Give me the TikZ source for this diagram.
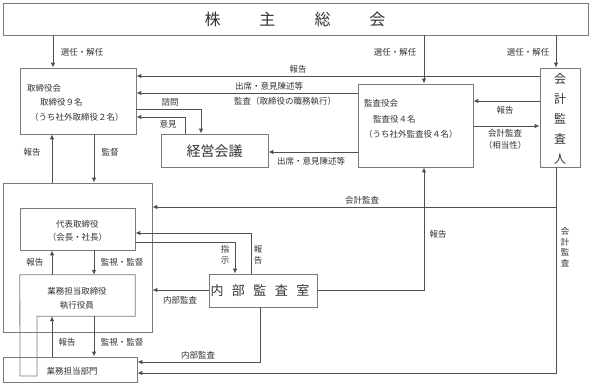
\documentclass[tikz,border=0pt]{standalone}
\usepackage{fontspec}
\setmainfont{Noto Sans CJK JP}
\usetikzlibrary{arrows.meta}
\definecolor{boxc}{HTML}{7A7A7A}
\definecolor{linec}{HTML}{505050}
\definecolor{txtc}{HTML}{333333}
\begin{document}
\begin{tikzpicture}[x=1pt,y=-1pt,
  box/.style={draw=boxc,line width=0.8pt,inner sep=0pt,anchor=center},
  hid/.style={inner sep=0pt,anchor=center},
  arr/.style={draw=linec,line width=0.9pt,-{Latex[length=5pt,width=4.5pt]}},
  lbl/.style={inner sep=0pt,text=txtc,font=\fontsize{8.5}{10}\selectfont},
  vlbl/.style={lbl,align=center,font=\fontsize{8.5}{10.5}\selectfont},
]
\useasboundingbox (0,0) rectangle (592,384);
\fill[white] (0,0) rectangle (592,384);

% boxes
\node[box,minimum width=585pt,minimum height=32pt] (kabu) at (295.5,19) {};
\node[hid,text=txtc,font=\fontsize{16}{18}\selectfont] (kabut) at (295,19) {株\hspace{39pt}主\hspace{39pt}総\hspace{39pt}会};

\node[box,minimum width=116pt,minimum height=66pt] (tori) at (78,101) {};
\node[lbl,anchor=west] (tori1) at (27,88) {取締役会};
\node[lbl,anchor=west] (tori2) at (40,102) {取締役９名};
\node[lbl,anchor=west] (tori3) at (30,117) {（うち社外取締役２名）};

\node[box,minimum width=115pt,minimum height=83pt] (kansa) at (415.5,125.5) {};
\node[lbl,anchor=west] (kansa1) at (364,103) {監査役会};
\node[lbl,anchor=west] (kansa2) at (373,119) {監査役４名};
\node[lbl,anchor=west] (kansa3) at (364,134) {（うち社外監査役４名）};

\node[box,minimum width=40pt,minimum height=99pt] (kaikei) at (560,117.5) {};
\node[hid,text=txtc,align=center,font=\fontsize{12}{20}\selectfont] (kaikeit) at (560,119) {会\\計\\監\\査\\人};

\node[box,minimum width=107pt,minimum height=33pt] (keiei) at (214.5,150.5) {};
\node[hid,text=txtc,font=\fontsize{14}{16}\selectfont] (keieit) at (214.5,151) {経営会議};

\node[box,minimum width=149pt,minimum height=149pt] (outer) at (77.5,257.5) {};

\node[box,minimum width=115pt,minimum height=42pt] (daihyo) at (77.5,229) {};
\node[lbl,align=center,font=\fontsize{8.5}{13}\selectfont] (daihyot) at (77.5,230.5) {代表取締役\\（会長・社長）};

\node[hid,minimum width=115pt,minimum height=41pt] (gyomu) at (77.5,295.5) {};
\draw[draw=boxc,line width=0.8pt] (gyomu.north west) -- (gyomu.north east) -- (gyomu.south east)
  -- (gyomu.south -| 37,0) -- (37,376) -- (20,376) -- cycle;
\node[lbl,align=center,font=\fontsize{8.5}{14}\selectfont] (gyomut) at (77,298) {業務担当取締役\\執行役員};

\node[box,minimum width=134pt,minimum height=25pt] (bumon) at (70,369.5) {};
\node[lbl] (bumont) at (72,371) {業務担当部門};

\node[box,minimum width=108pt,minimum height=33pt] (naibu) at (263,290.5) {};
\node[hid,text=txtc,font=\fontsize{13}{15}\selectfont] (naibut) at (260,291) {内\hspace{8.5pt}部\hspace{8.5pt}監\hspace{8.5pt}査\hspace{8.5pt}室};

% connectors
\draw[arr] (kabu.south -| 53,0) -- (tori.north -| 53,0);
\draw[arr] (kabu.south -| 424,0) -- (kansa.north -| 424,0);
\draw[arr] (kabu.south -| 556,0) -- (kaikei.north -| 556,0);
\draw[arr] (kaikei.west |- 0,76) -- (tori.east |- 0,76);
\draw[arr] (kansa.west |- 0,93) -- (tori.east |- 0,93);
\draw[arr] (tori.east |- 0,109) -| (keiei.north -| 201,0);
\draw[arr] (keiei.north -| 185,0) |- (tori.east |- 0,117);
\draw[arr] (kansa.west |- 0,152) -- (keiei.east |- 0,152);
\draw[arr] (kaikei.west |- 0,101) -- (kansa.east |- 0,101);
\draw[arr] (kansa.east |- 0,126) -- (kaikei.west |- 0,126);
\draw[arr] (outer.north -| 52,0) -- (tori.south -| 52,0);
\draw[arr] (tori.south -| 94,0) -- (outer.north -| 94,0);
\draw[arr] (kaikei.south -| 556,0) |- (bumon.east |- 0,373);
\coordinate (kj) at (556,207);
\draw[arr] (kj) -- (outer.east |- kj);
\draw[arr] (naibu.east |- 0,290) -| (kansa.south -| 424,0);
\draw[arr] (daihyo.east |- 0,242) -| (naibu.north -| 235,0);
\draw[arr] (naibu.north -| 251,0) |- (daihyo.east |- 0,233);
\draw[arr] (naibu.west |- 0,290) -- (outer.east |- 0,290);
\draw[arr] (naibu.south -| 260,0) |- (bumon.east |- 0,362);
\draw[arr] (daihyo.south -| 94,0) -- (gyomu.north -| 94,0);
\draw[arr] (gyomu.north -| 52,0) -- (daihyo.south -| 52,0);
\draw[arr] (gyomu.south -| 94,0) -- (bumon.north -| 94,0);
\draw[arr] (bumon.north -| 52,0) -- (gyomu.south -| 52,0);

% labels
\node[lbl] (l1) at (82,52) {選任・解任};
\node[lbl] (l2) at (395,52) {選任・解任};
\node[lbl] (l3) at (528,52) {選任・解任};
\node[lbl] (l4) at (298,69) {報告};
\node[lbl] (l5) at (269,86) {出席・意見陳述等};
\node[lbl] (l6) at (285,101) {監査（取締役の職務執行）};
\node[lbl] (l7) at (170,102) {諮問};
\node[lbl] (l8) at (168,124) {意見};
\node[lbl] (l9) at (311,161) {出席・意見陳述等};
\node[lbl] (l10) at (505,110) {報告};
\node[lbl] (l11) at (505,133) {会計監査};
\node[lbl] (l12) at (505,145) {（相当性）};
\node[lbl] (l13) at (32,152) {報告};
\node[lbl] (l14) at (110,152) {監督};
\node[lbl] (l15) at (362,200) {会計監査};
\node[lbl] (l16) at (438,234) {報告};
\node[vlbl] (l17) at (565,247) {会\\計\\監\\査};
\node[lbl] (l18) at (35,262) {報告};
\node[lbl] (l19) at (122,262) {監視・監督};
\node[vlbl] (l20) at (225,255) {指\\示};
\node[vlbl] (l21) at (258,255) {報\\告};
\node[lbl] (l22) at (180,300) {内部監査};
\node[lbl] (l23) at (198,355) {内部監査};
\node[lbl] (l24) at (67,342) {報告};
\node[lbl] (l25) at (122,342) {監視・監督};
\end{tikzpicture}
\end{document}
